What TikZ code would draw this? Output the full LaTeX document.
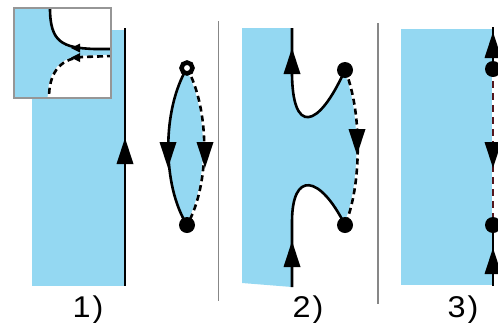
\documentclass[tikz,border=0pt]{standalone}
\usepackage{fontspec}
\setmainfont{Liberation Sans}
\definecolor{skyb}{RGB}{148,216,242}
\definecolor{divg}{RGB}{135,135,135}
\definecolor{boxg}{RGB}{150,150,150}
\definecolor{darkred}{RGB}{85,22,28}
\begin{document}
\begin{tikzpicture}[x=1pt,y=-1pt,
  bound/.style={line width=2.6pt,black},
  underlay/.style={line width=2.6pt,white},
  dashblk/.style={line width=2.6pt,black,dash pattern=on 6pt off 4pt},
  dashred/.style={line width=2.6pt,darkred,dash pattern=on 7pt off 5pt},
  dotb/.style={circle,fill=black,inner sep=0pt,minimum size=16pt},
  ringdot/.style={circle,draw=black,fill=white,line width=4.5pt,inner sep=0pt,minimum size=11pt},
  divider/.style={divg,line width=1.4pt},
  lbl/.style={font=\fontsize{30}{30}\selectfont,anchor=base,inner sep=0pt,xscale=1.08},
  arrup/.pic={\fill[black] (0,-13) -- (8.5,13) -- (-8.5,13) -- cycle;},
  arrdown/.pic={\fill[black] (0,13) -- (8.5,-13) -- (-8.5,-13) -- cycle;},
  arrleft/.pic={\fill[black] (-5,0) -- (4,-4.5) -- (4,4.5) -- cycle;}]
\useasboundingbox (0,0) rectangle (498,322);
\clip (0,0) rectangle (498,322);

% ---------- panel 1 ----------
\fill[skyb] (32,30) rectangle (125,286);
% inset
\begin{scope}
\clip (14,8) rectangle (111,98);
\fill[skyb] (14,8) rectangle (111,98);
\fill[white] (50,8) .. controls (50,42) and (62,48) .. (95,49) -- (111,49) -- (111,8) -- cycle;
\fill[white] (111,56) -- (82,57) .. controls (58,59) and (49,75) .. (49,98) -- (111,98) -- cycle;
\draw[bound] (50,6) -- (50,8) .. controls (50,42) and (62,48) .. (95,49) -- (113,49);
\draw[underlay] (113,56) -- (82,57) .. controls (58,59) and (49,75) .. (49,98) -- (49,100);
\draw[dashblk] (113,56) -- (82,57) .. controls (58,59) and (49,75) .. (49,98) -- (49,100);
\pic at (76,48) {arrleft};
\pic at (76,57.5) {arrleft};
\end{scope}
\draw[boxg,line width=1.5pt] (14,8) rectangle (111,98);
\coordinate (l1t) at (125,28);
\coordinate (l1b) at (125,286);
\draw[bound] (l1t) -- (l1b);
\pic at (125,151) {arrup};

% lens
\coordinate (e1t) at (187,68);
\coordinate (e1b) at (187,225);
\fill[skyb] (e1t) .. controls (162,110) and (162,185) .. (e1b) .. controls (210,185) and (210,110) .. (e1t) -- cycle;
\draw[bound] (e1t) .. controls (162,110) and (162,185) .. (e1b);
\draw[underlay] (e1t) .. controls (210,110) and (210,185) .. (e1b);
\draw[dashblk] (e1t) .. controls (210,110) and (210,185) .. (e1b);
\pic at (168,155) {arrdown};
\pic at (205,155) {arrdown};
\node[dotb] (d1b) at (e1b) {};
\node[ringdot] (d1t) at (e1t) {};

% dividers
\coordinate (v1t) at (218.5,21);
\coordinate (v1b) at (218.5,301);
\coordinate (v2t) at (378,23);
\coordinate (v2b) at (378,304);
\draw[divider] (v1t) -- (v1b);
\draw[divider] (v2t) -- (v2b);

% ---------- panel 2 ----------
\coordinate (p2t) at (345,70);
\coordinate (p2b) at (345,225);
\fill[skyb] (242,28) -- (292,28) -- (292,72) .. controls (292,135) and (318,130) .. (p2t)
  .. controls (362,110) and (362,185) .. (p2b)
  .. controls (320,175) and (292,170) .. (292,222) -- (292,287) -- (242,283) -- cycle;
\draw[bound] (292,28) -- (292,72) .. controls (292,135) and (318,130) .. (p2t);
\draw[bound] (p2b) .. controls (320,175) and (292,170) .. (292,222) -- (292,287);
\draw[underlay] (p2t) .. controls (362,110) and (362,185) .. (p2b);
\draw[dashblk] (p2t) .. controls (362,110) and (362,185) .. (p2b);
\pic at (292,61) {arrup};
\pic at (292,254) {arrup};
\pic at (357,142) {arrdown};
\node[dotb] (d2t) at (p2t) {};
\node[dotb] (d2b) at (p2b) {};

% ---------- panel 3 ----------
\fill[skyb] (401,29) rectangle (493,285);
\coordinate (p3t) at (493,69);
\coordinate (p3b) at (493,225);
\draw[bound] (493,27) -- (p3t);
\draw[bound] (p3b) -- (493,286);
\draw[underlay] (p3t) -- (p3b);
\draw[dashred] (p3t) -- (p3b);
\pic at (493,45) {arrup};
\pic at (493,155) {arrdown};
\pic at (493,261) {arrup};
\node[dotb] (d3t) at (p3t) {};
\node[dotb] (d3b) at (p3b) {};

% labels
\node[lbl] (t1) at (88,317) {1\kern2pt)};
\node[lbl] (t2) at (308,317) {2\kern2pt)};
\node[lbl] (t3) at (463,317) {3\kern2pt)};
\end{tikzpicture}
\end{document}
